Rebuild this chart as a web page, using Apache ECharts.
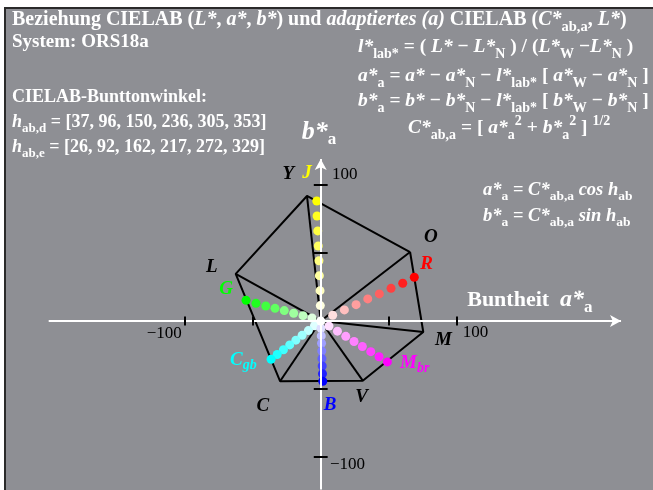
<!DOCTYPE html>
<html>
<head>
<meta charset="utf-8">
<script src="https://cdn.jsdelivr.net/npm/echarts@6/dist/echarts.min.js"></script>
<style>html,body{margin:0;padding:0;background:#fff}#main{width:653px;height:490px}</style>
</head>
<body>
<div id="main"></div>
<script>
// hue dots (a*a, b*a), from the centre outwards
var redA = [8.8, 17.4, 26.0, 34.6, 43.1, 51.7, 60.3, 68.8];
var redB = [4.2, 8.1, 12.0, 16.2, 19.9, 24.0, 27.7, 32.1];
var yellowA = [-0.3, -0.5, -1.0, -1.3, -1.8, -2.2, -2.7, -2.9];
var yellowB = [11.3, 22.3, 33.3, 44.3, 55.1, 66.2, 77.2, 88.2];
var greenA = [-6.4, -13.0, -19.9, -26.8, -33.6, -40.4, -47.6, -54.9];
var greenB = [2.2, 3.9, 5.7, 7.6, 9.3, 11.0, 13.0, 15.2];
var cyanA = [-4.6, -9.1, -13.7, -18.3, -22.8, -27.4, -32.0, -36.5];
var cyanB = [-3.5, -7.1, -10.6, -14.1, -17.6, -21.2, -24.7, -28.2];
var blueA = [0.2, 0.4, 0.6, 0.8, 0.9, 1.1, 1.3, 1.5];
var blueB = [-5.4, -11.0, -16.4, -22.1, -27.7, -33.1, -38.8, -44.3];
var magentaA = [6.1, 12.3, 18.4, 24.5, 30.6, 36.8, 42.9, 49.0];
var magentaB = [-3.8, -7.5, -11.3, -15.1, -18.8, -22.6, -26.3, -30.1];

// device hexagon corners O Y L C V M
var hexNames = ['O', 'Y', 'L', 'C', 'V', 'M'];
var hexA = [65.7, -10.1, -62.5, -29.9, 30.9, 75.4];
var hexB = [50.7, 91.9, 34.6, -44.3, -43.9, -8.1];

var devHues = [37, 96, 150, 236, 305, 353];
var elemHues = [26, 92, 162, 217, 272, 329];

var tickValues = [-100, -50, 50, 100];

var serif = '"Liberation Serif", "DejaVu Serif", serif';
var noStroke = {textBorderWidth: 0, textBorderColor: 'transparent', textShadowBlur: 0, opacity: 1};

function tint(hex, t) {
    var n = parseInt(hex.slice(1), 16);
    var c = [(n >> 16) & 255, (n >> 8) & 255, n & 255].map(function (v) {
        return Math.round(255 + (v - 255) * t);
    });
    return 'rgb(' + c.join(',') + ')';
}

function textRich(size, sub, color) {
    var base = Object.assign({fontFamily: serif, fontWeight: 'bold', color: color}, noStroke);
    var pad = Math.round(size * 0.7);
    return {
        b: Object.assign({}, base, {fontSize: size, lineHeight: 30}),
        i: Object.assign({}, base, {fontSize: size, lineHeight: 30, fontStyle: 'italic'}),
        s: Object.assign({}, base, {fontSize: sub, lineHeight: sub, padding: [pad, 0, 0, 0]}),
        p: Object.assign({}, base, {fontSize: sub, lineHeight: sub, padding: [0, 0, pad, 0]})
    };
}

function header(left, top, text, size, sub) {
    return {left: left, top: top, padding: 0, text: text,
        textStyle: {fontFamily: serif, fontSize: size, color: '#fff', rich: textRich(size, sub, '#fff')}};
}

window.onload = function () {
    var chartDom = document.getElementById('main');
    var myChart = echarts.init(chartDom);

    var hues = [
        {name: 'R', color: '#ff0000', a: redA, b: redB},
        {name: 'J', color: '#ffff00', a: yellowA, b: yellowB},
        {name: 'G', color: '#00ff00', a: greenA, b: greenB},
        {name: 'Cgb', color: '#00ffff', a: cyanA, b: cyanB},
        {name: 'B', color: '#0000ff', a: blueA, b: blueB},
        {name: 'Mbr', color: '#ff00ff', a: magentaA, b: magentaB}
    ];

    // label anchors in a*/b* units
    var ptRich = {
        m: Object.assign({fontFamily: serif, fontWeight: 'bold', fontStyle: 'italic', fontSize: 19, lineHeight: 30}, noStroke),
        s: Object.assign({fontFamily: serif, fontWeight: 'bold', fontStyle: 'italic', fontSize: 14, lineHeight: 14, padding: [10, 0, 0, 0]}, noStroke)
    };
    var labelSpots = [
        {t: '{m|Y}', c: '#000', at: [-23.8, 108.1]},
        {t: '{m|J}', c: '#ffff00', at: [-10.1, 108.8]},
        {t: '{m|O}', c: '#000', at: [80.9, 61.5]},
        {t: '{m|R}', c: '#ff0000', at: [77.9, 41.7]},
        {t: '{m|L}', c: '#000', at: [-80.1, 39.5]},
        {t: '{m|G}', c: '#00ff00', at: [-69.6, 23.3]},
        {t: '{m|M}', c: '#000', at: [90.2, -14.0]},
        {t: '{m|M}{s|br}', c: '#ff00ff', at: [58.3, -31.2], align: 'left'},
        {t: '{m|C}{s|gb}', c: '#00ffff', at: [-66.7, -28.7], align: 'left'},
        {t: '{m|C}', c: '#000', at: [-42.6, -62.5]},
        {t: '{m|B}', c: '#0000ff', at: [6.8, -61.8]},
        {t: '{m|V}', c: '#000', at: [30.1, -56.1]}
    ];
    var tickSpots = [
        {t: '−100', at: [-102.2, -9.0], align: 'right'},
        {t: '100', at: [104.4, -8.6], align: 'left'},
        {t: '100', at: [8.3, 107.4], align: 'left'},
        {t: '−100', at: [6.8, -105.9], align: 'left'}
    ];
    var axRich = {
        b: Object.assign({fontFamily: serif, fontWeight: 'bold', fontSize: 22, color: '#fff', lineHeight: 36}, noStroke),
        i: Object.assign({fontFamily: serif, fontWeight: 'bold', fontStyle: 'italic', fontSize: 24, color: '#fff', lineHeight: 36}, noStroke),
        j: Object.assign({fontFamily: serif, fontWeight: 'bold', fontStyle: 'italic', fontSize: 26, color: '#fff', lineHeight: 36}, noStroke),
        s: Object.assign({fontFamily: serif, fontWeight: 'bold', fontSize: 17, color: '#fff', lineHeight: 17, padding: [15, 0, 0, 0]}, noStroke)
    };
    var nameSpots = [
        {t: '{j|b*}{s|a}', at: [-14.0, 139], align: 'left'},
        {t: '{b|Buntheit  }{i|a*}{s|a}', at: [107.7, 15.4], align: 'left'}
    ];

    var series = [];

    // axes with arrows, and ticks
    var tickLines = [];
    tickValues.forEach(function (v) {
        tickLines.push([{coord: [v, -3.3]}, {coord: [v, 3.3]}]);
        tickLines.push([{coord: [-5.1, v]}, {coord: [5.1, v]}]);
    });
    series.push({
        type: 'line', data: [[-200, 0], [220.8, 0]], symbol: 'none', lineStyle: {width: 0}, silent: true,
        markLine: {
            silent: true, animation: false, symbol: ['none', 'arrow'], symbolSize: [9, 11],
            label: {show: false}, lineStyle: {color: '#fff', width: 2, type: 'solid'},
            data: [
                [{coord: [-200, 0]}, {coord: [220.8, 0]}],
                [{coord: [0, -124]}, {coord: [0, 119]}]
            ]
        }
    });
    series.push({
        type: 'line', data: [], symbol: 'none', silent: true,
        markLine: {
            silent: true, animation: false, symbol: ['none', 'none'],
            label: {show: false}, lineStyle: {color: '#000', width: 2, type: 'solid'},
            data: tickLines
        }
    });

    // hexagon and spokes
    var ring = hexA.map(function (a, i) { return [a, hexB[i]]; });
    ring.push(ring[0]);
    series.push({type: 'line', data: ring, symbol: 'none', silent: true,
        lineStyle: {color: '#000', width: 2}});
    hexA.forEach(function (a, i) {
        series.push({type: 'line', data: [[0, 0], [a, hexB[i]]], symbol: 'none', silent: true,
            lineStyle: {color: '#000', width: 2}});
    });

    // dots
    hues.forEach(function (h) {
        series.push({
            type: 'scatter', name: h.name, z: 3, symbolSize: 9,
            data: h.a.map(function (a, i) { return [a, h.b[i]]; }),
            itemStyle: {opacity: 1, color: function (p) { return tint(h.color, (p.dataIndex + 1) / h.a.length); }}
        });
    });
    series.push({type: 'scatter', name: 'N', z: 4, symbolSize: 9, data: [[0, 0]],
        itemStyle: {color: '#fff', opacity: 1}});

    // text in chart coordinates
    function textSeries(spots, rich, color) {
        return {
            type: 'scatter', z: 5, symbolSize: 0, silent: true,
            itemStyle: {color: 'transparent', opacity: 1},
            data: spots.map(function (s) {
                return {
                    value: s.at,
                    label: Object.assign({
                        show: true, position: 'inside', align: s.align || 'center', verticalAlign: 'middle',
                        formatter: s.t, color: s.c || color, rich: rich,
                        fontFamily: serif, fontSize: 17
                    }, noStroke)
                };
            })
        };
    }
    series.push(textSeries(labelSpots, ptRich, '#000'));
    series.push(textSeries(tickSpots, null, '#000'));
    series.push(textSeries(nameSpots, axRich, '#fff'));

    var option = {
        backgroundColor: '#fff',
        animation: false,
        grid: {left: 0, right: 0, top: 0, bottom: 0},
        xAxis: {type: 'value', min: -235.8, max: 244.3, show: false},
        yAxis: {type: 'value', min: -124.3, max: 236.0, show: false},
        graphic: [{
            type: 'rect', z: -10, silent: true,
            shape: {x: 5, y: 8, width: 700, height: 600},
            style: {fill: '#8e8f94', stroke: '#2a2a2a', lineWidth: 2}
        }],
        title: [
            header(12, 5, '{b|Beziehung CIELAB (}{i|L*}{b|, }{i|a*}{b|, }{i|b*}{b|) und }{i|adaptiertes (a)}{b| CIELAB (}{i|C*}{s|ab,a}{b|, }{i|L*}{b|)}', 20, 14.5),
            header(12, 27, '{b|System: ORS18a}', 19, 14),
            header(12, 82, '{b|CIELAB-Bunttonwinkel:}', 18, 13),
            header(12, 107, '{i|h}{s|ab,d}{b| = [' + devHues.join(', ') + ']}', 18, 13),
            header(12, 132, '{i|h}{s|ab,e}{b| = [' + elemHues.join(', ') + ']}', 18, 13),
            header(358, 32, '{i|l*}{s|lab*}{b| = ( }{i|L*}{b| − }{i|L*}{s|N}{b| ) / (}{i|L*}{s|W}{b| −}{i|L*}{s|N}{b| )}', 19.5, 14),
            header(358, 61, '{i|a*}{s|a}{b| = }{i|a*}{b| − }{i|a*}{s|N}{b| − }{i|l*}{s|lab*}{b| [ }{i|a*}{s|W}{b| − }{i|a*}{s|N}{b| ]}', 19.5, 14),
            header(358, 86, '{i|b*}{s|a}{b| = }{i|b*}{b| − }{i|b*}{s|N}{b| − }{i|l*}{s|lab*}{b| [ }{i|b*}{s|W}{b| − }{i|b*}{s|N}{b| ]}', 19.5, 14),
            header(408, 113, '{i|C*}{s|ab,a}{b| = [ }{i|a*}{s|a}{p|2}{b| + }{i|b*}{s|a}{p|2}{b| ] }{p|1/2}', 19.5, 14),
            header(483, 175, '{i|a*}{s|a}{b| = }{i|C*}{s|ab,a}{i| cos h}{s|ab}', 18.5, 13.5),
            header(483, 201, '{i|b*}{s|a}{b| = }{i|C*}{s|ab,a}{i| sin h}{s|ab}', 18.5, 13.5)
        ],
        series: series
    };
    option && myChart.setOption(option);
};
</script>
</body>
</html>
